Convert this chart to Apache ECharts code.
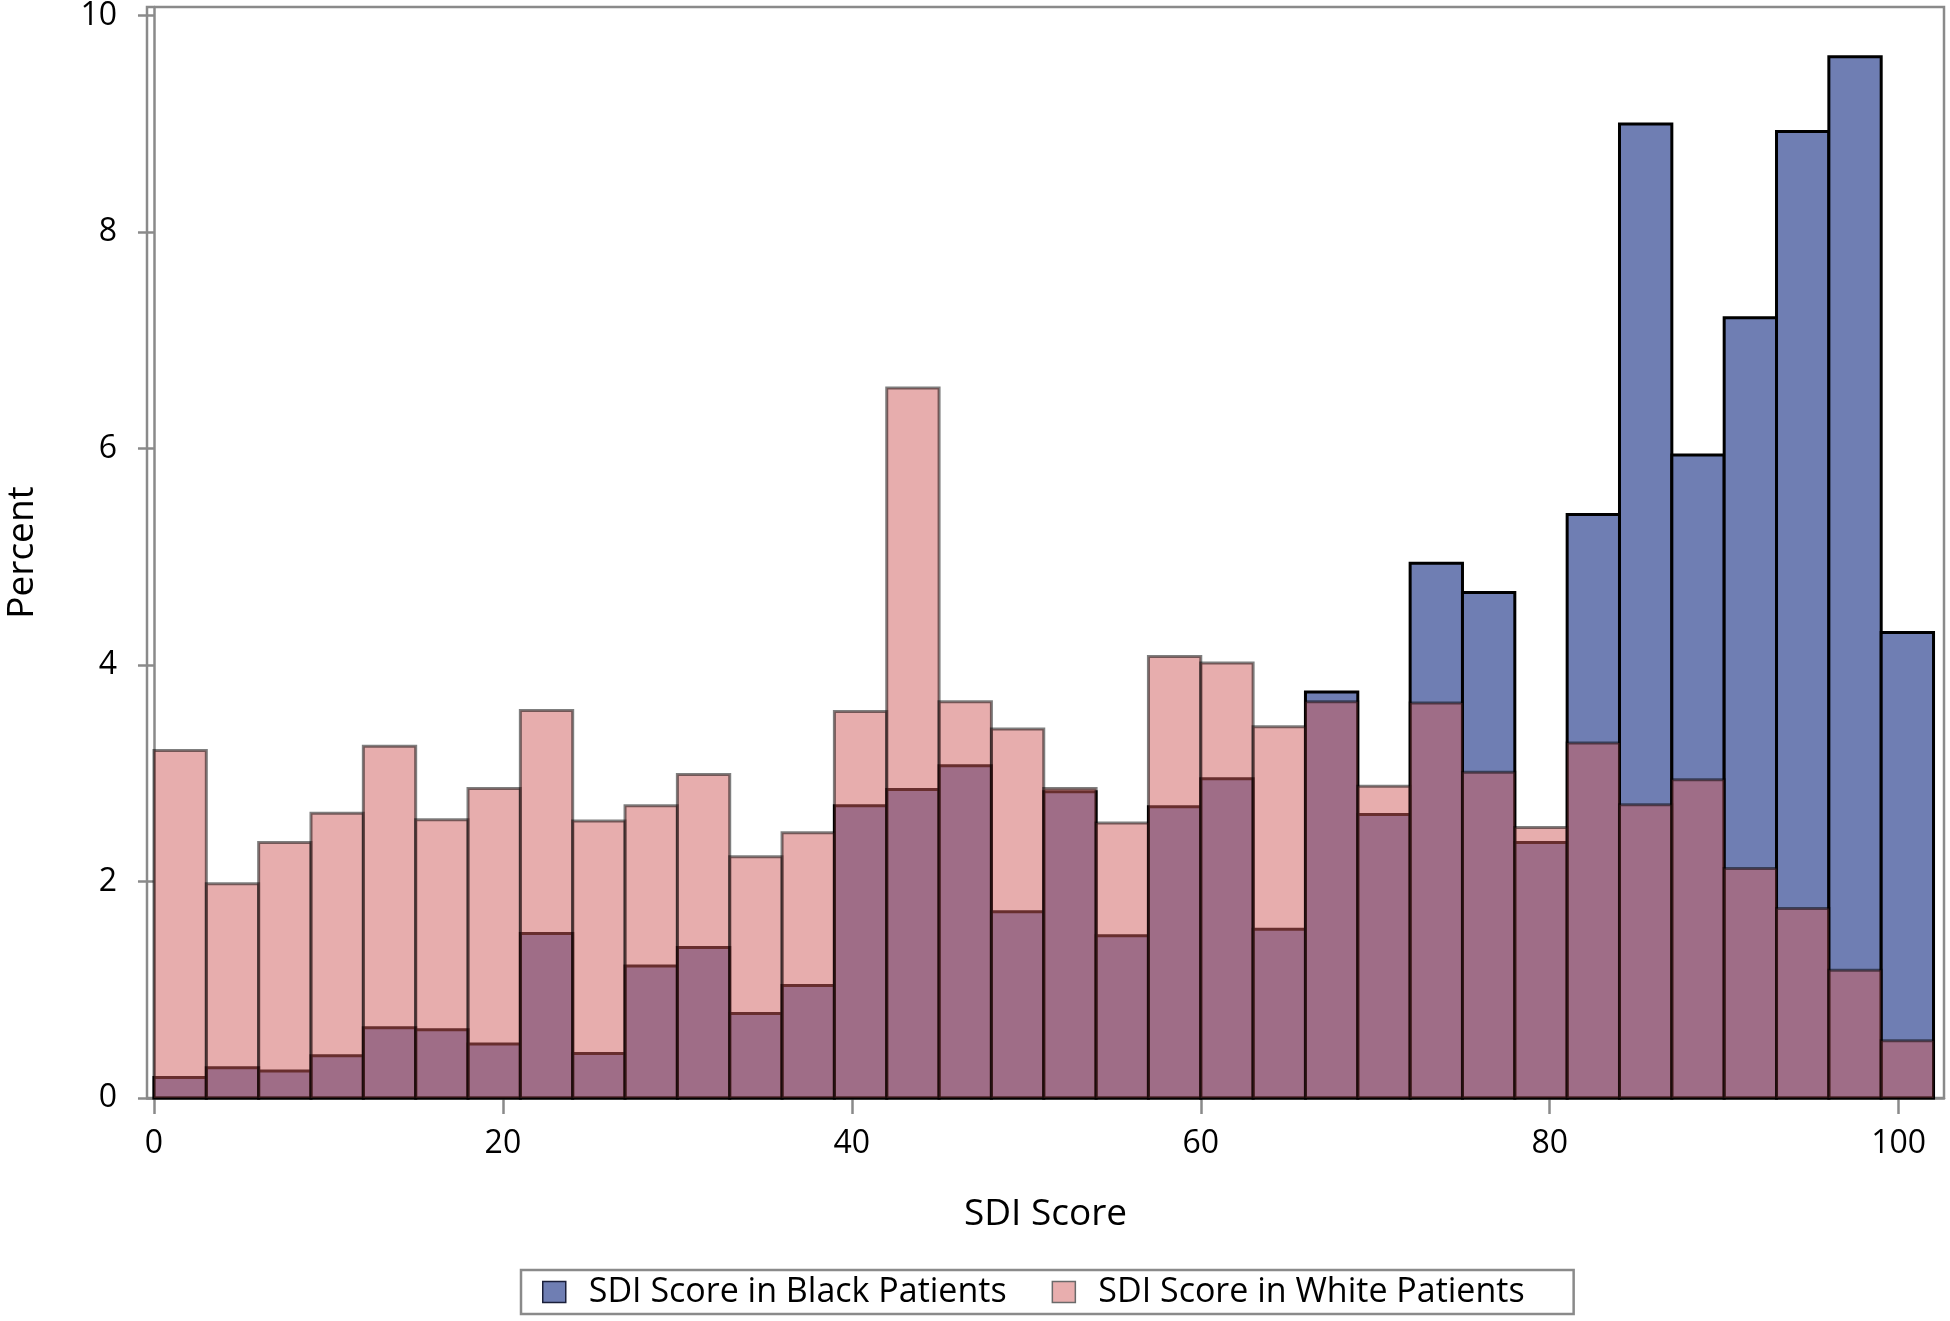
<!DOCTYPE html>
<html>
<head>
<meta charset="utf-8">
<script src="https://cdn.jsdelivr.net/npm/echarts@6/dist/echarts.min.js"></script>
<style>
  html, body { margin: 0; padding: 0; background: #ffffff; }
  #chart { width: 1950px; height: 1321px; }
</style>
</head>
<body>
<div id="chart"></div>
<script>
// Histogram bins (left edge of each bin, SDI score)
const binStart = [0, 3, 6, 9, 12, 15, 18, 21, 24, 27, 30, 33, 36, 39, 42, 45, 48, 51,
                  54, 57, 60, 63, 66, 69, 72, 75, 78, 81, 84, 87, 90, 93, 96, 99];
const binWidth = 3;
// Percent of Black patients per bin
const blackPct = [0.19, 0.28, 0.25, 0.39, 0.65, 0.63, 0.50, 1.52, 0.41, 1.22, 1.39, 0.78,
                  1.04, 2.70, 2.85, 3.07, 1.72, 2.83, 1.50, 2.69, 2.95, 1.56, 3.75, 2.62,
                  4.94, 4.67, 2.36, 5.39, 9.00, 5.94, 7.21, 8.93, 9.62, 4.30];
// Percent of White patients per bin
const whitePct = [3.21, 1.98, 2.36, 2.63, 3.25, 2.57, 2.86, 3.58, 2.56, 2.70, 2.99, 2.23,
                  2.45, 3.57, 6.56, 3.66, 3.41, 2.86, 2.54, 4.08, 4.02, 3.43, 3.66, 2.88,
                  3.65, 3.01, 2.50, 3.28, 2.71, 2.94, 2.12, 1.75, 1.18, 0.53];
const xTicks = [0, 20, 40, 60, 80, 100];
const yTicks = [0, 2, 4, 6, 8, 10];
const seriesNames = ['SDI Score in Black Patients', 'SDI Score in White Patients'];

const FONT = 'Open Sans';
const AXIS_GRAY = '#8a8a8a';

function makeRender(style) {
  return function (params, api) {
    const x0 = api.value(0);
    const v = api.value(1);
    const p0 = api.coord([x0, v]);
    const p1 = api.coord([x0 + binWidth, 0]);
    return {
      type: 'rect',
      shape: { x: p0[0], y: p0[1], width: p1[0] - p0[0], height: p1[1] - p0[1] },
      style: style
    };
  };
}

const chart = echarts.init(document.getElementById('chart'), null, { renderer: 'canvas' });

chart.setOption({
  backgroundColor: '#ffffff',
  animation: false,
  textStyle: { fontFamily: FONT, color: '#000' },
  grid: {
    left: 147, top: 7, right: 6, bottom: 223,
    outerBoundsMode: 'none',
    containLabel: false,
    show: true, borderColor: AXIS_GRAY, borderWidth: 2.5, backgroundColor: 'transparent'
  },
  xAxis: {
    type: 'value',
    min: -0.4, max: 102.6,
    name: 'SDI Score',
    nameLocation: 'middle',
    nameGap: 98,
    nameTextStyle: { fontFamily: FONT, fontSize: 37, color: '#000' },
    axisLine: { show: true, lineStyle: { color: AXIS_GRAY, width: 2.5 } },
    axisTick: { show: true, length: 16, lineStyle: { color: AXIS_GRAY, width: 2.5 }, customValues: xTicks },
    axisLabel: { fontFamily: FONT, fontSize: 32, color: '#000', margin: 30, customValues: xTicks },
    splitLine: { show: false }
  },
  yAxis: {
    type: 'value',
    min: 0, max: 10.08,
    name: 'Percent',
    nameLocation: 'middle',
    nameGap: 106,
    nameTextStyle: { fontFamily: FONT, fontSize: 37, color: '#000' },
    axisLine: { show: true, lineStyle: { color: AXIS_GRAY, width: 2.5 } },
    axisTick: { show: true, length: 16, lineStyle: { color: AXIS_GRAY, width: 2.5 }, customValues: yTicks },
    axisLabel: { fontFamily: FONT, fontSize: 32, color: '#000', margin: 30, customValues: yTicks },
    splitLine: { show: false }
  },
  legend: {
    left: 521, top: 1270,
    orient: 'horizontal',
    icon: 'rect',
    itemWidth: 23, itemHeight: 21,
    itemGap: 45,
    padding: [5, 49, 5, 21],
    borderColor: AXIS_GRAY, borderWidth: 2.5,
    textStyle: { fontFamily: FONT, fontSize: 34, color: '#000', padding: [0, 0, 0, 18] },
    data: [
      { name: seriesNames[0], itemStyle: { color: '#6F7EB3', borderColor: '#1a1f3a', borderWidth: 1.5 } },
      { name: seriesNames[1], itemStyle: { color: '#E8AEAE', borderColor: '#6a6a6a', borderWidth: 1.5 } }
    ]
  },
  series: [
    {
      name: seriesNames[0],
      type: 'custom',
      renderItem: makeRender({ fill: '#6F7EB3', stroke: '#000000', lineWidth: 3 }),
      itemStyle: { color: '#6F7EB3' },
      encode: { x: 0, y: 1 },
      data: binStart.map((b, i) => [b, blackPct[i]]),
      z: 2
    },
    {
      name: seriesNames[1],
      type: 'custom',
      renderItem: makeRender({ fill: '#D05B5B', stroke: '#000000', lineWidth: 3, opacity: 0.5 }),
      itemStyle: { color: '#E8AEAE' },
      encode: { x: 0, y: 1 },
      data: binStart.map((b, i) => [b, whitePct[i]]),
      z: 3
    }
  ]
});
</script>
</body>
</html>
